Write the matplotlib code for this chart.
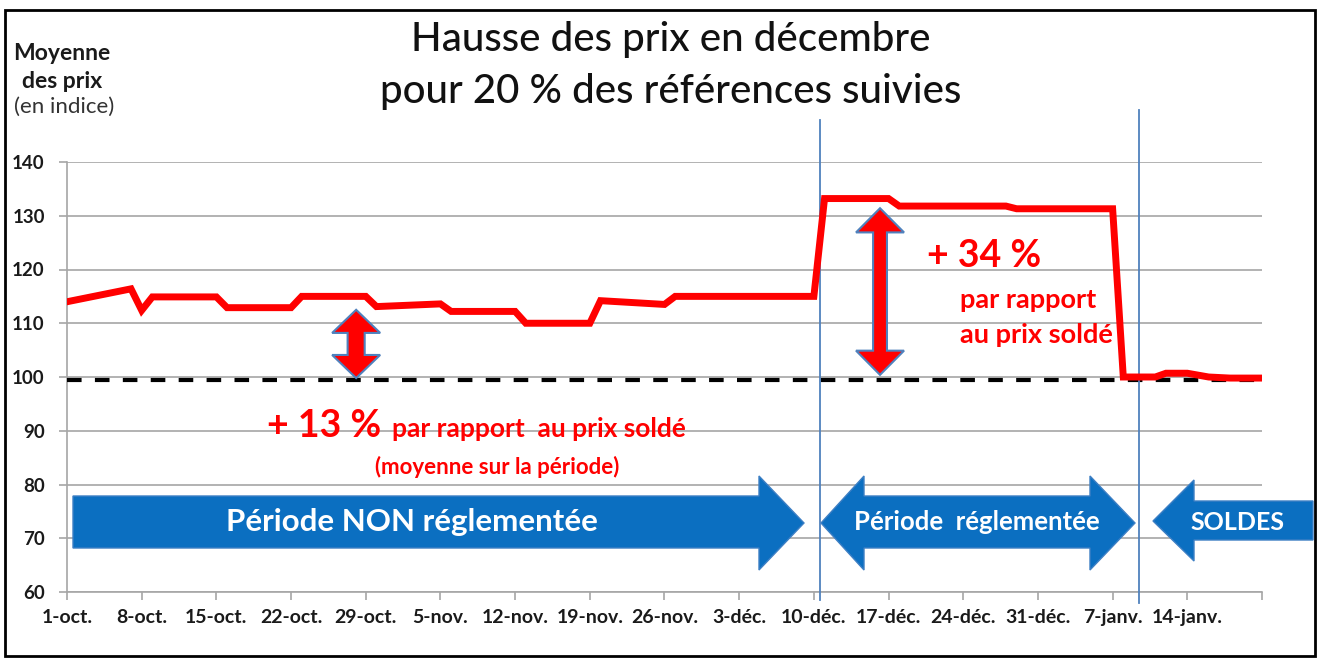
import matplotlib.pyplot as plt
from matplotlib.patches import Polygon, Rectangle

plt.rcParams['font.family'] = ['Lato', 'DejaVu Sans']

# jours depuis le 1er octobre
jours = [0, 6, 7, 8, 14, 15, 21, 22, 28, 29, 35, 36, 42, 43, 49, 50, 56, 57,
         70, 71, 77, 78, 88, 89, 98, 99, 102, 103, 105, 107, 109, 112]
prix = [114, 116.4, 112.4, 114.9, 114.9, 112.9, 112.9, 115, 115, 113.1, 113.6,
        112.2, 112.2, 110, 110, 114.2, 113.5, 115, 115, 133.2, 133.2, 131.8,
        131.8, 131.3, 131.3, 100, 100, 100.7, 100.7, 100, 99.8, 99.8]
prix_solde = 99.4

ticks_jours = list(range(0, 113, 7))
ticks_labels = ['1-oct.', '8-oct.', '15-oct.', '22-oct.', '29-oct.', '5-nov.',
                '12-nov.', '19-nov.', '26-nov.', '3-déc.', '10-déc.', '17-déc.',
                '24-déc.', '31-déc.', '7-janv.', '14-janv.', '']
y_ticks = [60, 70, 80, 90, 100, 110, 120, 130, 140]

debut_reglemente = 70.6
debut_soldes = 100.5

W, H = 1317, 658
fig = plt.figure(figsize=(W / 100, H / 100), dpi=100)
ax = fig.add_axes([67 / W, 1 - 592 / H, (1262 - 67) / W, (592 - 162) / H])

ax.set_xlim(0, 112)
ax.set_ylim(60, 140)
ax.set_yticks(y_ticks)
ax.set_xticks(ticks_jours)
ax.set_xticklabels(ticks_labels)
ax.grid(axis='y', color='#a6a6a6', lw=1.2)
ax.set_axisbelow(True)
for s in ['top', 'right']:
    ax.spines[s].set_visible(False)
for s in ['left', 'bottom']:
    ax.spines[s].set_color('#a6a6a6')
    ax.spines[s].set_linewidth(1.2)
ax.tick_params(axis='both', colors='#a6a6a6', width=1.2, length=6,
               labelcolor='#1a1a1a')
ax.tick_params(axis='y', pad=10, labelsize=13.5)
ax.tick_params(axis='x', pad=6, labelsize=14)
for lab in ax.get_xticklabels() + ax.get_yticklabels():
    lab.set_fontweight('bold')

# lignes verticales des periodes
ax.plot([debut_reglemente] * 2, [58.5, 147.8], color='#4f81bd', lw=1.3, clip_on=False, zorder=4)
ax.plot([debut_soldes] * 2, [58.0, 149.7], color='#4f81bd', lw=1.3, clip_on=False, zorder=4)

# prix solde (reference) et courbe
ax.plot([0, 112], [prix_solde] * 2, color='black', lw=3, ls=(0, (3.5, 3.2)), zorder=3)
ax.plot(jours, prix, color='red', lw=5, solid_joinstyle='miter', zorder=5)


def double_fleche(xc, y0, y1, hw, hl, sw, **kw):
    pts = [(xc, y1), (xc + hw / 2, y1 - hl), (xc + sw / 2, y1 - hl),
           (xc + sw / 2, y0 + hl), (xc + hw / 2, y0 + hl), (xc, y0),
           (xc - hw / 2, y0 + hl), (xc - sw / 2, y0 + hl),
           (xc - sw / 2, y1 - hl), (xc - hw / 2, y1 - hl)]
    ax.add_patch(Polygon(pts, closed=True, **kw))


rouge = dict(facecolor='red', edgecolor='#4f81bd', lw=1.5, zorder=6)
double_fleche(27.1, 99.8, 112.5, 4.5, 4.3, 1.6, **rouge)
double_fleche(76.2, 100.4, 131.4, 4.5, 4.5, 1.3, **rouge)

# fleches bleues des periodes (coordonnees pixels de la figure)
def px(x, y):
    return (x / W, 1 - y / H)


bleu = dict(facecolor='#0b6fc1', edgecolor='#3d7fc4', lw=1, closed=True,
            transform=fig.transFigure, zorder=2)
fig.add_artist(Polygon([px(73, 496), px(759, 496), px(759, 476), px(804, 523),
                        px(759, 570), px(759, 548), px(73, 548)], **bleu))
fig.add_artist(Polygon([px(821, 523), px(864, 476), px(864, 496), px(1090, 496),
                        px(1090, 476), px(1135, 523), px(1090, 570), px(1090, 548),
                        px(864, 548), px(864, 570)], **bleu))
fig.add_artist(Polygon([px(1153, 521), px(1194, 480), px(1194, 501), px(1313, 501),
                        px(1313, 540), px(1194, 540), px(1194, 561)], **bleu))

fig.text(412 / W, 1 - 522 / H, 'Période NON réglementée', color='white',
         fontsize=22.5, fontweight='bold', ha='center', va='center', zorder=7)
fig.text(977 / W, 1 - 522 / H, 'Période  réglementée', color='white',
         fontsize=18.5, fontweight='bold', ha='center', va='center', zorder=7)
fig.text(1237 / W, 1 - 522 / H, 'SOLDES', color='white',
         fontsize=18, fontweight='bold', ha='center', va='center', zorder=7)

# annotations rouges
fig.text(267 / W, 1 - 437 / H, '+ 13 %', color='red', fontsize=27,
         fontweight='bold', ha='left', va='baseline')
fig.text(392 / W, 1 - 437 / H, 'par rapport  au prix soldé', color='red',
         fontsize=19, fontweight='bold', ha='left', va='baseline')
fig.text(497 / W, 1 - 467 / H, '(moyenne sur la période)', color='red',
         fontsize=16, fontweight='bold', ha='center', va='center')
fig.text(927 / W, 1 - 267 / H, '+ 34 %', color='red', fontsize=27,
         fontweight='bold', ha='left', va='baseline')
fig.text(960 / W, 1 - 300 / H, 'par rapport', color='red', fontsize=19.5,
         fontweight='bold', ha='left', va='center')
fig.text(960 / W, 1 - 335 / H, 'au prix soldé', color='red', fontsize=19.5,
         fontweight='bold', ha='left', va='center')

# titre et libelle de l'axe
fig.text(671 / W, 1 - 40 / H, 'Hausse des prix en décembre', fontsize=29,
         fontweight='medium', ha='center', va='center', color='#111111')
fig.text(671 / W, 1 - 92 / H, 'pour 20 % des références suivies', fontsize=29,
         fontweight='medium', ha='center', va='center', color='#111111')
fig.text(62 / W, 1 - 53 / H, 'Moyenne', fontsize=16.5, fontweight='bold',
         ha='center', va='center', color='#1a1a1a')
fig.text(62 / W, 1 - 82 / H, 'des prix', fontsize=16.5, fontweight='bold',
         ha='center', va='center', color='#1a1a1a')
fig.text(64 / W, 1 - 107 / H, '(en indice)', fontsize=16,
         ha='center', va='center', color='#333333')

fig.add_artist(Rectangle((5 / W, 2 / H), 1310 / W, 646 / H, fill=False,
                         edgecolor='black', lw=2, transform=fig.transFigure))

fig.savefig('out.png', dpi=100)
